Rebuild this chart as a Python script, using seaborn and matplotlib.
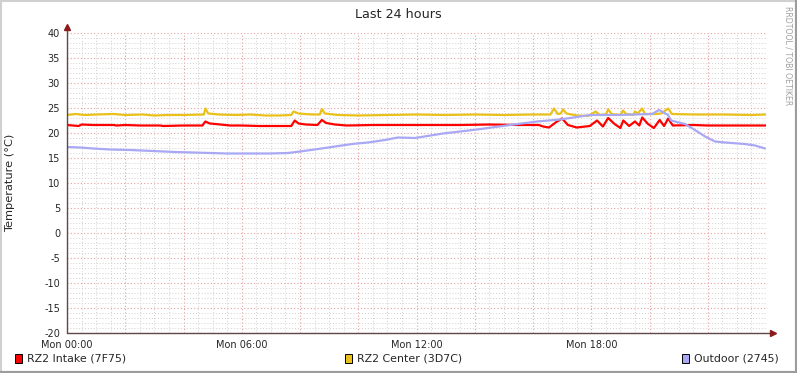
import numpy as np
import pandas as pd
import seaborn as sns
import matplotlib.pyplot as plt
from matplotlib.lines import Line2D
from matplotlib.patches import Rectangle
from matplotlib.ticker import MultipleLocator

# hours since Mon 00:00 and temperature in deg C
intake_t = [0, 0.4, 0.5, 0.9, 1.6, 1.7, 2.0, 2.5, 3.2, 3.3, 4.0, 4.65, 4.75, 4.9, 5.1, 5.6,
            6.0, 6.6, 7.2, 7.7, 7.82, 7.95, 8.2, 8.6, 8.75, 8.9, 9.2, 9.6, 10.5, 12.0, 13.5,
            14.5, 15.5, 16.2, 16.35, 16.55, 16.8, 17.0, 17.2, 17.5, 17.8, 17.95, 18.2, 18.4,
            18.58, 18.8, 19.0, 19.1, 19.3, 19.5, 19.65, 19.75, 19.95, 20.15, 20.35, 20.5,
            20.64, 20.8, 21.5, 22.0, 23.0, 24.0]
intake_v = [21.6, 21.4, 21.7, 21.6, 21.6, 21.5, 21.6, 21.5, 21.5, 21.4, 21.5, 21.5, 22.3, 21.9,
            21.8, 21.5, 21.5, 21.4, 21.4, 21.4, 22.5, 21.9, 21.7, 21.6, 22.6, 22.0, 21.7, 21.5,
            21.6, 21.6, 21.6, 21.7, 21.6, 21.6, 21.3, 21.1, 22.2, 22.9, 21.6, 21.1, 21.3, 21.4,
            22.5, 21.3, 23.0, 21.8, 21.0, 22.5, 21.4, 22.3, 21.5, 23.1, 21.8, 21.0, 22.6, 21.4,
            22.9, 21.5, 21.6, 21.5, 21.5, 21.5]

center_t = [0, 0.3, 0.6, 1.0, 1.6, 2.0, 2.6, 3.0, 3.5, 4.0, 4.7, 4.75, 4.85, 5.2, 5.8, 6.3,
            6.8, 7.3, 7.7, 7.78, 7.95, 8.4, 8.68, 8.75, 8.85, 9.3, 10.0, 11.0, 12.0, 13.0, 14.0,
            15.0, 16.0, 16.6, 16.72, 16.85, 16.95, 17.03, 17.15, 17.5, 17.9, 18.15, 18.3, 18.5,
            18.58, 18.7, 19.0, 19.09, 19.2, 19.45, 19.5, 19.6, 19.74, 19.85, 20.2, 20.4, 20.64,
            20.77, 21.5, 22.5, 23.5, 24.0]
center_v = [23.6, 23.8, 23.6, 23.7, 23.8, 23.6, 23.7, 23.5, 23.6, 23.6, 23.7, 24.9, 23.9, 23.7,
            23.6, 23.7, 23.5, 23.5, 23.6, 24.3, 23.9, 23.7, 23.7, 24.8, 23.9, 23.6, 23.5, 23.6,
            23.7, 23.6, 23.7, 23.6, 23.7, 23.7, 24.9, 23.8, 23.9, 24.7, 23.9, 23.5, 23.4, 24.3,
            23.6, 23.7, 24.7, 23.8, 23.6, 24.5, 23.8, 23.6, 24.3, 23.9, 24.9, 23.8, 23.8, 23.9,
            24.9, 23.8, 23.7, 23.7, 23.6, 23.7]

outdoor_t = [0, 0.45, 0.89, 1.48, 2.16, 2.95, 3.71, 4.33, 5.49, 6.28, 6.97, 7.59, 8.0, 8.62,
             9.2, 9.79, 10.33, 10.92, 11.36, 11.95, 12.91, 14.08, 15.21, 16.14, 16.93, 17.96,
             18.92, 20.09, 20.33, 20.64, 20.74, 21.22, 21.56, 21.91, 22.25, 22.59, 23.28,
             23.62, 23.97]
outdoor_v = [17.2, 17.1, 16.9, 16.7, 16.6, 16.4, 16.2, 16.1, 15.9, 15.9, 15.9, 16.0, 16.3, 16.8,
             17.3, 17.8, 18.1, 18.6, 19.1, 19.0, 19.9, 20.7, 21.6, 22.3, 22.7, 23.6, 23.6, 23.8,
             24.6, 23.6, 22.5, 21.8, 20.6, 19.3, 18.3, 18.1, 17.8, 17.5, 16.9]

series_names = ["RZ2 Intake (7F75)", "RZ2 Center (3D7C)", "Outdoor (2745)"]
series_colors = ["#FF0000", "#EAC11A", "#A8A8F4"]
time_labels = ["Mon 00:00", "Mon 06:00", "Mon 12:00", "Mon 18:00"]

df = pd.concat([
    pd.DataFrame({"hour": intake_t, "temp": intake_v, "sensor": series_names[0]}),
    pd.DataFrame({"hour": center_t, "temp": center_v, "sensor": series_names[1]}),
    pd.DataFrame({"hour": outdoor_t, "temp": outdoor_v, "sensor": series_names[2]}),
])

sns.set_style("white")
plt.rcParams["font.family"] = ["DejaVu Sans"]

fig = plt.figure(figsize=(7.97, 3.73), dpi=100)
ax = fig.add_axes([67 / 797, 40 / 373, 699 / 797, 300 / 373])

# grid first so lines sit on top
ax.set_xlim(0, 24)
ax.set_ylim(-20, 40)
ax.xaxis.set_major_locator(MultipleLocator(2))
ax.xaxis.set_minor_locator(MultipleLocator(0.5))
ax.yaxis.set_major_locator(MultipleLocator(5))
ax.yaxis.set_minor_locator(MultipleLocator(1))
ax.grid(which="minor", color="#D0D0D0", linestyle=(0, (1, 2)), linewidth=0.7)
ax.grid(which="major", color="#E8A0A0", linestyle=(0, (1, 2)), linewidth=0.8)
ax.set_axisbelow(True)

sns.lineplot(data=df, x="hour", y="temp", hue="sensor", hue_order=series_names,
             palette=series_colors, linewidth=1.6, errorbar=None, legend=False, ax=ax)

major_x = np.arange(0, 24, 2)
ax.set_xticks(major_x)
ax.set_xticklabels([time_labels[int(h) // 6] if h % 6 == 0 else "" for h in major_x])
ax.tick_params(axis="both", which="major", labelsize=7, length=3, width=0.8,
               color="#C06060", pad=2, direction="out")
ax.tick_params(axis="both", which="minor", length=0)
ax.set_yticklabels([str(int(v)) for v in ax.get_yticks()])
ax.set_xlabel("")
ax.set_ylabel("")

for side in ["top", "right", "left", "bottom"]:
    ax.spines[side].set_visible(False)

# axis lines with arrow heads, rrdtool style
ax.plot([0, 1.01], [0, 0], transform=ax.transAxes, color="#604848", lw=1.0, clip_on=False)
ax.plot([0, 0], [0, 1.02], transform=ax.transAxes, color="#604848", lw=1.0, clip_on=False)
ax.plot([1.01], [0], transform=ax.transAxes, marker=">", color="#8B1A1A", ms=4, clip_on=False)
ax.plot([0], [1.02], transform=ax.transAxes, marker="^", color="#8B1A1A", ms=4, clip_on=False)

fig.text(10 / 797, 1 - 183 / 373, "Temperature (°C)", rotation=90, ha="center",
         va="center", fontsize=8.2)
fig.text(398 / 797, 1 - 14 / 373, "Last 24 hours", ha="center", va="center", fontsize=9.2)
fig.text(788 / 797, 1 - 6 / 373, "RRDTOOL / TOBI OETIKER", rotation=270, ha="center",
         va="top", fontsize=5.6, color="#A0A0A0")

# legend
legend_x = [15, 345, 682]
for lx, name, col in zip(legend_x, series_names, series_colors):
    fig.patches.append(Rectangle((lx / 797, 1 - 363 / 373), 7 / 797, 9 / 373,
                                 transform=fig.transFigure, facecolor=col,
                                 edgecolor="black", linewidth=0.7))
    fig.text((lx + 12) / 797, 1 - 358.5 / 373, name, ha="left", va="center", fontsize=7.9)

# 3d frame around the canvas
fig.lines.append(Line2D([0, 0], [0, 1], transform=fig.transFigure, color="#D0D0D0", lw=2.2))
fig.lines.append(Line2D([0, 1], [1, 1], transform=fig.transFigure, color="#D0D0D0", lw=2.2))
fig.lines.append(Line2D([1, 1], [0, 1], transform=fig.transFigure, color="#9C9C9C", lw=3))
fig.lines.append(Line2D([0, 1], [0, 0], transform=fig.transFigure, color="#9C9C9C", lw=3))

fig.savefig("out.png", dpi=100)
